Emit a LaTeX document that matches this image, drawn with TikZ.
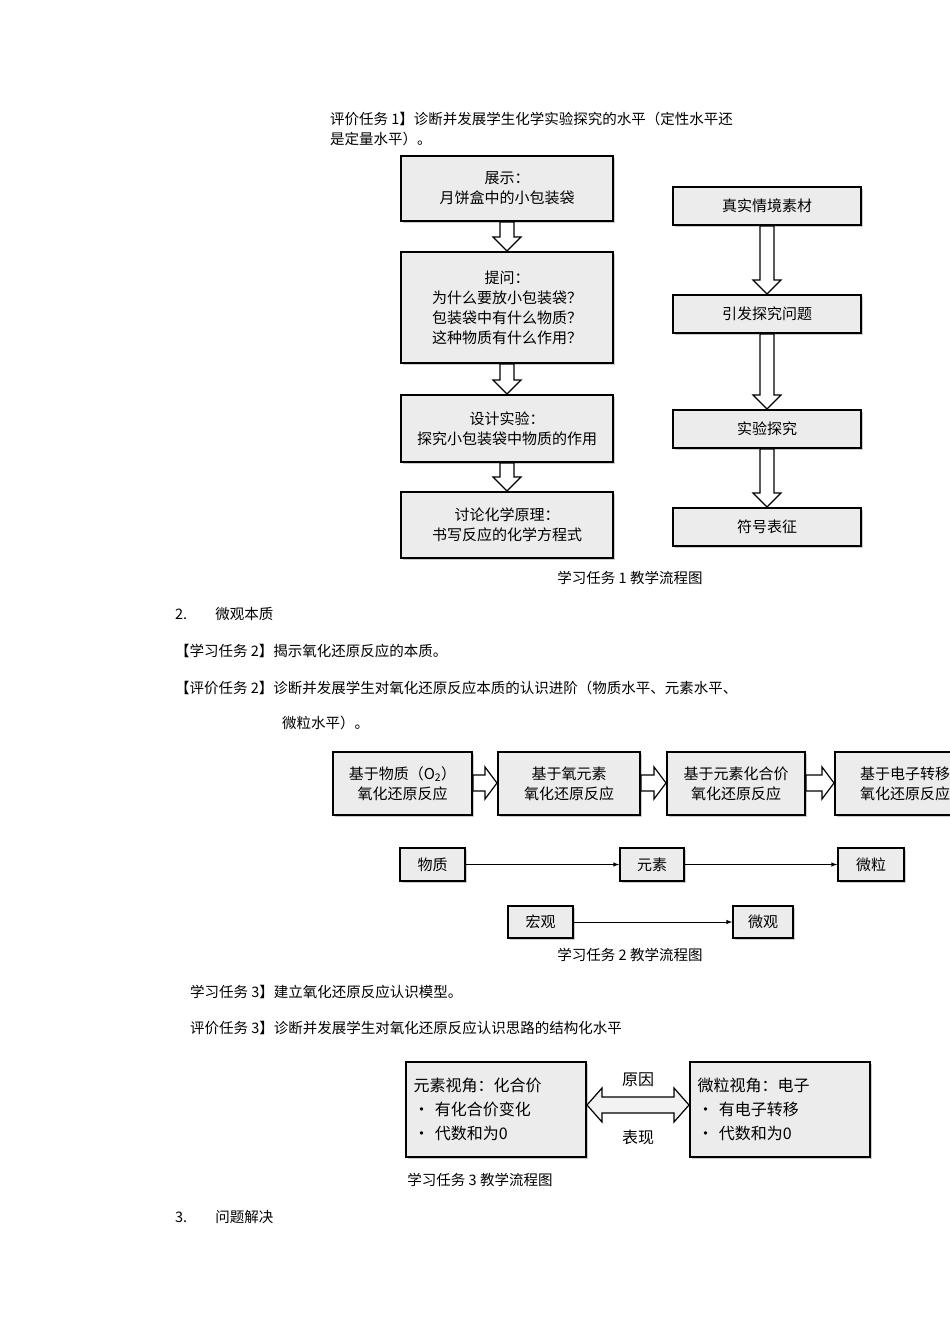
\documentclass[tikz,border=0pt]{standalone}
\usepackage{fontspec}
\setmainfont{Noto Sans CJK SC}
\usetikzlibrary{shadows}
\tikzset{
 box/.style={draw=black,line width=1.6pt,fill=gray!15,align=center,inner sep=0pt,font=\fontsize{15}{20}\selectfont,drop shadow={shadow xshift=1.5pt,shadow yshift=-1.5pt,opacity=.4}},
 txt/.style={anchor=west,inner sep=0pt,font=\fontsize{14.5}{19}\selectfont},
 hol/.style={draw=black,line width=1.2pt,fill=white},
 thin/.style={draw=black,line width=1pt,-latex}
}
\newcommand{\mkbox}[6]{\node[box,minimum width=#4-#2,minimum height=#5-#3] (#1) at ({(#2+#4)/2},{(#3+#5)/2}) {#6};}
% hollow down arrow: x, ytop, ybottom
\newcommand{\darr}[3]{\draw[hol] (#1-7,#2)--(#1+7,#2)--(#1+7,#3-14)--(#1+14,#3-14)--(#1,#3)--(#1-14,#3-14)--(#1-7,#3-14)--cycle;}
% hollow right arrow: y, xleft, xright
\newcommand{\rarr}[3]{\draw[hol] (#2,#1-8)--(#3-12,#1-8)--(#3-12,#1-16)--(#3,#1)--(#3-12,#1+16)--(#3-12,#1+8)--(#2,#1+8)--cycle;}
\begin{document}
\begin{tikzpicture}[x=1pt,y=-1pt]
\useasboundingbox (0,0) rectangle (950,1344);
\clip (0,0) rectangle (950,1344);
\fill[white] (0,0) rectangle (950,1344);
\node[txt] (t1) at (330,119) {评价任务 1】诊断并发展学生化学实验探究的水平（定性水平还};
\node[txt] (t2) at (330,139) {是定量水平）。};
% left column
\mkbox{a}{401}{156}{613}{221}{展示：\\月饼盒中的小包装袋}
\mkbox{b}{401}{252}{613}{363}{提问：\\为什么要放小包装袋？\\包装袋中有什么物质？\\这种物质有什么作用？}
\mkbox{c}{401}{395}{613}{462}{设计实验：\\探究小包装袋中物质的作用}
\mkbox{d}{401}{492}{613}{558}{讨论化学原理：\\书写反应的化学方程式}
\darr{507}{222}{251}
\darr{507}{364}{394}
\darr{507}{463}{491}
% right column
\mkbox{r1}{673}{187}{861}{225}{真实情境素材}
\mkbox{r2}{673}{295}{861}{333}{引发探究问题}
\mkbox{r3}{673}{410}{861}{448}{实验探究}
\mkbox{r4}{673}{508}{861}{546}{符号表征}
\darr{767}{226}{294}
\darr{767}{334}{409}
\darr{767}{449}{507}
\node[txt,anchor=center] (cap1) at (630,578) {学习任务 1 教学流程图};
\node[txt] (h2) at (175,614) {2.\hspace{28pt}微观本质};
\node[txt] (l1) at (175,651) {【学习任务 2】揭示氧化还原反应的本质。};
\node[txt] (l2) at (175,688) {【评价任务 2】诊断并发展学生对氧化还原反应本质的认识进阶（物质水平、元素水平、};
\node[txt] (l3) at (282,723) {微粒水平）。};
% row
\mkbox{p1}{333}{752}{472}{815}{基于物质（O\textsubscript{2}）\\氧化还原反应}
\mkbox{p2}{498}{752}{640}{815}{基于氧元素\\氧化还原反应}
\mkbox{p3}{667}{752}{805}{815}{基于元素化合价\\氧化还原反应}
\mkbox{p4}{835}{752}{975}{815}{基于电子转移\\氧化还原反应}
\rarr{783}{473}{497}
\rarr{783}{641}{666}
\rarr{783}{806}{834}
\mkbox{w1}{400}{848}{465}{881}{物质}
\mkbox{w2}{620}{848}{684}{881}{元素}
\mkbox{w3}{838}{848}{904}{881}{微粒}
\draw[thin] (w1)--(w2);
\draw[thin] (w2)--(w3);
\mkbox{m1}{508}{906}{573}{938}{宏观}
\mkbox{m2}{733}{906}{793}{938}{微观}
\draw[thin] (m1)--(m2);
\node[txt,anchor=center] (cap2) at (630,955) {学习任务 2 教学流程图};
\node[txt] (l4) at (190,992) {学习任务 3】建立氧化还原反应认识模型。};
\node[txt] (l5) at (190,1028) {评价任务 3】诊断并发展学生对氧化还原反应认识思路的结构化水平};
\node[box,minimum width=180pt,minimum height=95pt,align=left,text width=165pt,font=\fontsize{16}{24}\selectfont] (e1) at (496,1109.5) {元素视角：化合价\\• 有化合价变化\\• 代数和为0};
\node[box,minimum width=180pt,minimum height=95pt,align=left,text width=165pt,font=\fontsize{16}{24}\selectfont] (e2) at (780,1109.5) {微粒视角：电子\\• 有电子转移\\• 代数和为0};
\draw[hol,fill=gray!10] (587,1105)--(602,1088)--(602,1097)--(674,1097)--(674,1088)--(689,1105)--(674,1122)--(674,1113)--(602,1113)--(602,1122)--cycle;
\node[txt,anchor=center,font=\fontsize{16}{20}\selectfont] (yy) at (638,1080) {原因};
\node[txt,anchor=center,font=\fontsize{16}{20}\selectfont] (bx) at (638,1137) {表现};
\node[txt,anchor=center] (cap3) at (480,1180) {学习任务 3 教学流程图};
\node[txt] (h3) at (175,1217) {3.\hspace{28pt}问题解决};
\end{tikzpicture}
\end{document}
